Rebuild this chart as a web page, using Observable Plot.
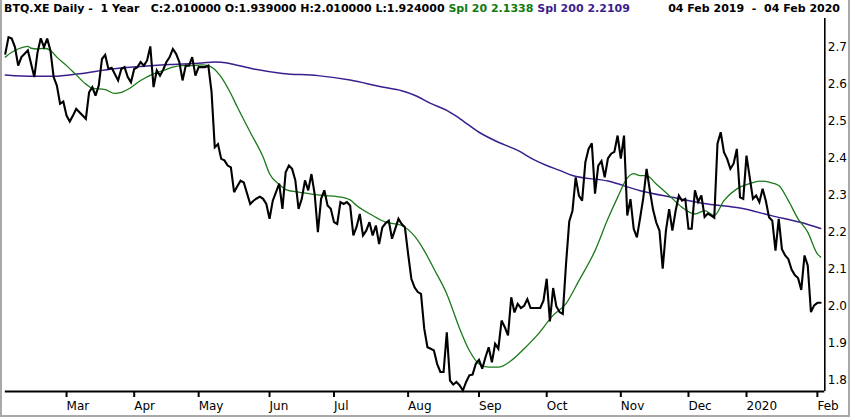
<!DOCTYPE html>
<html>
<head>
<meta charset="utf-8">
<script src="https://cdn.jsdelivr.net/npm/d3@7"></script>
<script src="https://cdn.jsdelivr.net/npm/@observablehq/plot@0.6"></script>
<style>
  html, body { margin: 0; padding: 0; background: #fff; }
  #wrap { position: relative; width: 850px; height: 417px; overflow: hidden; background: #fff; }
  #hdr, #range { position: absolute; top: 2px; font: bold 11px "DejaVu Sans", sans-serif; white-space: pre; color: #000; line-height: 14px; }
  #hdr { left: 4px; }
  #range { right: 10px; }
  #frame { position: absolute; left: 0; top: 0; right: 0; bottom: 0; border-left: 2px solid #a9a9a9; border-right: 2px solid #a9a9a9; border-bottom: 2px solid #a9a9a9; pointer-events: none; }
  #chart { position: absolute; left: 0; top: 0; }
</style>
</head>
<body>
<div id="wrap">
  <div id="chart"></div>
  <div id="hdr"></div>
  <div id="range"></div>
  <div id="frame"></div>
</div>
<script>
// ---- header values ----
const symbol = "BTQ.XE";
const period = "Daily -  1 Year";
const ohlc = {C: "2.010000", O: "1.939000", H: "2.010000", L: "1.924000"};
const spl20Last = "2.1338";
const spl200Last = "2.2109";
const dateRange = "04 Feb 2019  -  04 Feb 2020";

// ---- x axis: trading-day index of first session of each month ----
const monthIdx    = [19, 40, 60, 82, 102, 125, 147, 168, 191, 212, 230, 252];
const monthLabels = ["Mar","Apr","May","Jun","Jul","Aug","Sep","Oct","Nov","Dec","2020","Feb"];
const yTicks = [1.8, 1.9, 2.0, 2.1, 2.2, 2.3, 2.4, 2.5, 2.6, 2.7];

// ---- daily close (trading-day index, value) ----
const closeDay = [0,1,2,3,4,5,6,7,9,10,11,12,13,14,15,16,17,18,19,20,21,22,24,25,26,27,28,29,30,31,32,33,35,36,37,38,39,40,41,42,43,44,45,46,47,48,49,50,51,52,53,54,55,56,57,58,59,60,62,63,64,65,66,67,68,69,70,71,72,73,74,76,77,78,79,80,81,82,83,85,86,87,88,89,90,91,92,93,94,95,96,97,98,99,100,101,102,103,104,105,106,107,108,109,110,111,112,113,114,115,116,117,118,119,120,121,122,123,124,125,126,127,128,129,130,131,132,133,134,135,136,137,138,139,140,141,142,143,144,145,146,147,148,149,150,151,152,153,154,155,156,157,158,159,160,161,162,163,164,165,166,167,168,169,170,171,172,173,174,175,176,177,178,179,180,181,182,183,184,185,186,187,188,189,190,191,192,193,194,195,196,197,198,199,200,201,202,203,204,205,206,207,208,209,210,211,212,213,214,215,216,217,218,219,220,221,222,223,224,225,226,227,228,229,230,231,232,233,234,235,236,237,238,239,240,241,242,243,244,245,246,247,248,249,250,251,252,253];
const closeVal = [2.683,2.728,2.724,2.701,2.651,2.674,2.683,2.692,2.620,2.687,2.725,2.701,2.724,2.692,2.620,2.597,2.548,2.554,2.516,2.500,2.516,2.534,2.516,2.507,2.579,2.593,2.570,2.597,2.669,2.680,2.642,2.645,2.611,2.642,2.647,2.620,2.606,2.642,2.647,2.661,2.651,2.665,2.703,2.593,2.638,2.624,2.640,2.661,2.674,2.696,2.683,2.661,2.611,2.651,2.651,2.674,2.624,2.647,2.647,2.651,2.580,2.430,2.439,2.399,2.395,2.381,2.376,2.309,2.325,2.340,2.335,2.277,2.286,2.292,2.297,2.291,2.277,2.237,2.286,2.332,2.264,2.363,2.381,2.372,2.341,2.264,2.291,2.341,2.314,2.358,2.304,2.201,2.291,2.314,2.273,2.264,2.228,2.223,2.282,2.277,2.282,2.273,2.192,2.215,2.250,2.192,2.205,2.228,2.192,2.219,2.169,2.214,2.225,2.232,2.183,2.210,2.237,2.223,2.214,2.142,2.075,2.052,2.039,2.034,1.940,1.890,1.886,1.881,1.845,1.823,1.823,1.930,1.800,1.789,1.796,1.787,1.773,1.796,1.814,1.816,1.845,1.856,1.832,1.863,1.890,1.849,1.899,1.886,1.962,1.944,1.922,2.025,1.984,2.007,1.996,2.002,2.020,1.996,1.996,1.996,1.996,2.016,2.075,1.960,2.050,2.000,1.985,1.980,2.115,2.230,2.259,2.349,2.300,2.286,2.390,2.426,2.441,2.305,2.381,2.393,2.349,2.400,2.413,2.418,2.462,2.400,2.462,2.246,2.290,2.210,2.187,2.240,2.295,2.372,2.314,2.262,2.227,2.205,2.102,2.205,2.263,2.205,2.258,2.300,2.286,2.291,2.210,2.210,2.314,2.283,2.300,2.242,2.251,2.246,2.240,2.440,2.471,2.417,2.399,2.372,2.386,2.426,2.295,2.291,2.408,2.349,2.291,2.300,2.282,2.318,2.286,2.241,2.232,2.151,2.237,2.155,2.138,2.128,2.100,2.085,2.077,2.045,2.138,2.111,1.985,2.003,2.010,2.010];

// ---- 20-day simple moving average ----
const spl20Day = [0,2,4,7,8,10,12,14,16,19,22,25,27,31,34,36,39,42,46,49,52,55,58,61,63,67,70,72,76,80,82,85,87,91,95,99,103,107,109,114,118,123,127,130,133,137,141,144,147,150,153,157,161,165,170,174,178,183,187,190,193,195,197,199,202,206,210,214,217,220,223,227,231,234,237,240,243,246,249,252,253];
const spl20Val = [2.674,2.687,2.696,2.703,2.698,2.696,2.698,2.692,2.674,2.651,2.626,2.601,2.590,2.586,2.576,2.579,2.592,2.611,2.629,2.638,2.647,2.651,2.651,2.653,2.651,2.620,2.575,2.539,2.471,2.404,2.359,2.330,2.316,2.309,2.304,2.300,2.297,2.288,2.273,2.246,2.228,2.219,2.190,2.151,2.102,2.034,1.940,1.881,1.845,1.836,1.836,1.854,1.886,1.922,1.976,2.008,2.070,2.151,2.237,2.295,2.347,2.359,2.354,2.354,2.331,2.300,2.268,2.250,2.259,2.246,2.286,2.318,2.332,2.339,2.336,2.327,2.286,2.237,2.201,2.142,2.1338];

// ---- 200-day simple moving average ----
const spl200Day = [0,9,15,23,33,42,51,61,65,67,71,77,86,97,107,117,123,127,132,137,141,147,153,159,164,168,172,176,187,197,207,218,228,238,247,253];
const spl200Val = [2.626,2.622,2.622,2.629,2.642,2.649,2.654,2.658,2.661,2.660,2.654,2.642,2.630,2.624,2.612,2.593,2.583,2.571,2.549,2.530,2.508,2.471,2.444,2.422,2.397,2.381,2.368,2.354,2.339,2.313,2.295,2.277,2.266,2.245,2.227,2.2109];

const closeData  = closeDay.map((d, i) => ({day: d, v: closeVal[i]}));
const spl20Data  = spl20Day.map((d, i) => ({day: d, v: spl20Val[i]}));
const spl200Data = spl200Day.map((d, i) => ({day: d, v: spl200Val[i]}));
const labelOf = new Map(monthIdx.map((d, i) => [d, monthLabels[i]]));

const xMax = 254.3;
const yMin = 1.7703, yMax = 2.7784;

const chart = Plot.plot({
  width: 850,
  height: 417,
  marginLeft: 4.8,
  marginRight: 25.7,
  marginTop: 18,
  marginBottom: 26,
  x: {domain: [0, xMax], axis: null},
  y: {domain: [yMin, yMax], axis: null},
  style: {fontFamily: "'DejaVu Sans', sans-serif", fontSize: "12px", color: "#000", background: "transparent", overflow: "visible"},
  marks: [
    Plot.line(spl200Data, {x: "day", y: "v", stroke: "#3a1e8e", strokeWidth: 1.5, curve: "monotone-x"}),
    Plot.line(spl20Data, {x: "day", y: "v", stroke: "#1a7a1a", strokeWidth: 1.3, curve: "monotone-x"}),
    Plot.line(closeData, {x: "day", y: "v", stroke: "#000", strokeWidth: 2.1, strokeLinejoin: "miter", strokeMiterlimit: 3}),
    Plot.ruleY([yMin], {stroke: "#000", strokeWidth: 2}),
    Plot.ruleX([xMax], {stroke: "#000", strokeWidth: 1.6}),
    Plot.axisX({ticks: monthIdx, tickFormat: d => labelOf.get(d), tickSize: 6, tickPadding: 4, textAnchor: "start", strokeWidth: 2, fill: "#000", label: null}),
    Plot.axisY({anchor: "right", ticks: yTicks, tickSize: 0, tickPadding: 3, tickFormat: d => d.toFixed(1), fill: "#000", label: null})
  ]
});
document.getElementById("chart").appendChild(chart);

const hdr = document.getElementById("hdr");
hdr.innerHTML = `${symbol} ${period}   C:${ohlc.C} O:${ohlc.O} H:${ohlc.H} L:${ohlc.L} <span style="color:#0f7a0f">Spl 20 ${spl20Last}</span> <span style="color:#3a1e8e">Spl 200 ${spl200Last}</span>`;
document.getElementById("range").textContent = dateRange;
</script>
</body>
</html>
